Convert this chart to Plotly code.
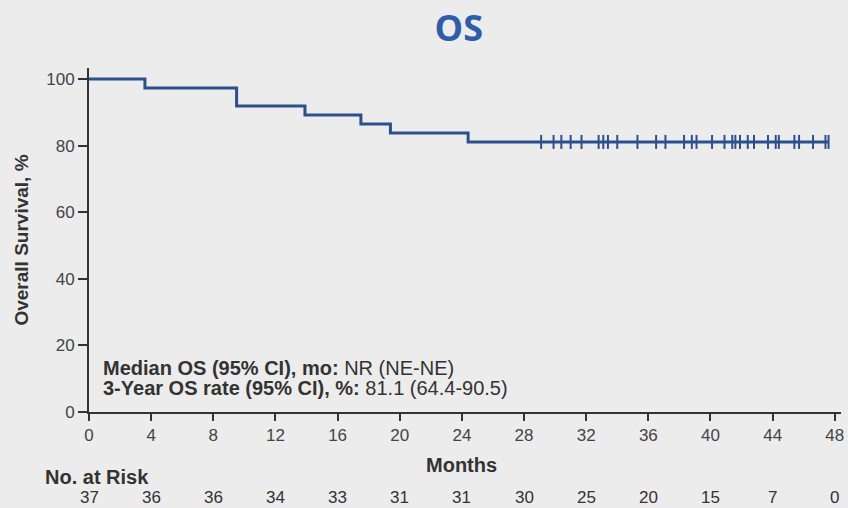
import plotly.graph_objects as go

# Kaplan-Meier step function: event times (months) and survival (%) after each step
event_months = [0, 3.6, 9.5, 13.9, 17.5, 19.4, 24.4]
survival_pct = [100, 97.3, 91.9, 89.2, 86.5, 83.8, 81.1]
follow_up_end = 47.6

# censored patients (months)
censor_months = [29.1, 29.9, 30.4, 31.0, 31.7,
                 32.8, 33.1, 33.4, 34.0, 35.3,
                 36.5, 37.1, 38.3, 38.8, 39.1,
                 40.1, 40.9, 41.4, 41.6, 41.9, 42.4, 42.8, 43.7,
                 44.2, 44.4, 45.4, 45.7, 46.6, 47.4, 47.6]

risk_months = [0, 4, 8, 12, 16, 20, 24, 28, 32, 36, 40, 44, 48]
at_risk = [37, 36, 36, 34, 33, 31, 31, 30, 25, 20, 15, 7, 0]

x_ticks = list(range(0, 49, 4))
y_ticks = [0, 20, 40, 60, 80, 100]

BLUE = "#2d4f8e"
TEXT = "#333333"
FONT = "Liberation Sans, Arial, sans-serif"


def survival_at(t):
    s = survival_pct[0]
    for m, v in zip(event_months, survival_pct):
        if t >= m:
            s = v
    return s


fig = go.Figure()

step_x = event_months + [follow_up_end]
step_y = survival_pct + [survival_pct[-1]]
fig.add_trace(go.Scatter(
    x=step_x, y=step_y, mode="lines",
    line=dict(color=BLUE, width=3, shape="hv"),
    hoverinfo="skip", showlegend=False,
))

fig.add_trace(go.Scatter(
    x=censor_months, y=[survival_at(t) for t in censor_months],
    mode="markers",
    marker=dict(symbol="line-ns", size=10, line=dict(color=BLUE, width=2)),
    showlegend=False,
))

annotations = []
for m, n in zip(risk_months, at_risk):
    annotations.append(dict(
        x=m, y=-0.249, xref="x", yref="paper", text=str(n), showarrow=False,
        font=dict(size=17, color=TEXT, family=FONT),
        xanchor="center", yanchor="middle",
    ))

annotations += [
    dict(x=-0.061, y=-0.19, xref="paper", yref="paper",
         text="<b>No. at Risk</b>", showarrow=False, xanchor="left",
         yanchor="middle", font=dict(size=20, color=TEXT, family=FONT)),
    dict(x=24, y=-0.154, xref="x", yref="paper", text="<b>Months</b>",
         showarrow=False, xanchor="center", yanchor="middle",
         font=dict(size=20, color=TEXT, family=FONT)),
    dict(x=0.8, y=13.2, xref="x", yref="y",
         text="<b>Median OS (95% CI), mo:</b> NR (NE-NE)",
         showarrow=False, xanchor="left", yanchor="middle",
         font=dict(size=20, color=TEXT, family=FONT)),
    dict(x=0.8, y=7.2, xref="x", yref="y",
         text="<b>3-Year OS rate (95% CI), %:</b> 81.1 (64.4-90.5)",
         showarrow=False, xanchor="left", yanchor="middle",
         font=dict(size=20, color=TEXT, family=FONT)),
]

fig.update_layout(
    width=848, height=508,
    margin=dict(l=89, r=4, t=68, b=96),
    paper_bgcolor="#ececec", plot_bgcolor="#ececec",
    title=dict(text="<b>OS</b>", x=0.541, xanchor="center", y=0.945,
               yanchor="middle",
               font=dict(size=36, color="#2f5da8", family="Open Sans, Arial, sans-serif")),
    annotations=annotations,
    xaxis=dict(
        range=[0, 48.4], tickvals=x_ticks, ticks="outside", ticklen=7,
        tickwidth=2, tickcolor=TEXT, showline=True, linecolor=TEXT,
        linewidth=2, showgrid=False, zeroline=False,
        tickfont=dict(size=17, color="#444444", family=FONT),
    ),
    yaxis=dict(
        range=[0, 103.3], tickvals=y_ticks, ticks="outside", ticklen=9,
        tickwidth=2, tickcolor=TEXT, showline=True, linecolor=TEXT,
        linewidth=2, showgrid=False, zeroline=False,
        tickfont=dict(size=17, color="#444444", family=FONT),
        title=dict(text="<b>Overall Survival, %</b>", standoff=13,
                   font=dict(size=19, color=TEXT, family=FONT)),
    ),
)

fig.write_html("out.html")
